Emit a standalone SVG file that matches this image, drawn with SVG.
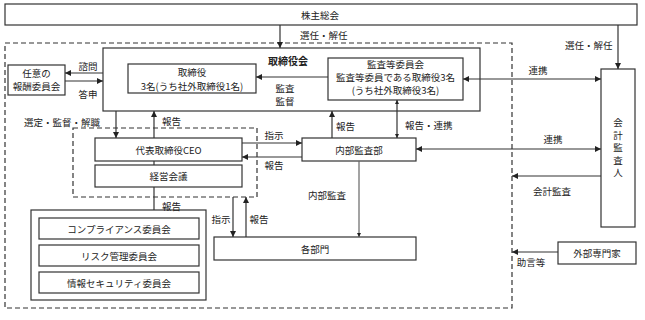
<svg xmlns="http://www.w3.org/2000/svg" width="645" height="320" viewBox="0 0 645 320">
<style>
text{font-family:"Noto Sans CJK JP","Liberation Sans",sans-serif;font-size:9.5px;fill:#222;text-anchor:middle;dominant-baseline:central}
.b{fill:#fff;stroke:#333;stroke-width:1.2}
.d{fill:none;stroke:#333;stroke-width:1.2;stroke-dasharray:5,3}
.c line{stroke:#333;stroke-width:1.2}
.bold{font-weight:bold;font-size:10px}
.l{text-anchor:start}
</style>
<defs>
<marker id="a" viewBox="0 0 10 10" refX="10" refY="5" markerWidth="6" markerHeight="6" markerUnits="userSpaceOnUse" orient="auto-start-reverse"><path d="M0,0L10,5L0,10z" fill="#222"/></marker>
<marker id="s" viewBox="0 0 10 10" refX="10" refY="5" markerWidth="4" markerHeight="4" markerUnits="userSpaceOnUse" orient="auto-start-reverse"><path d="M0,0L10,5L0,10z" fill="#222"/></marker>
</defs>
<rect class="d" x="5" y="43" width="507" height="265"/>
<rect class="d" x="73" y="128" width="184" height="69"/>
<g id="n-shareholders"><rect class="b" x="5" y="4" width="632" height="21"/><text x="320" y="14.5">株主総会</text></g>
<g id="n-board"><rect class="b" x="103" y="48" width="377" height="63"/><text class="bold" x="288" y="60">取締役会</text></g>
<g id="n-directors"><rect class="b" x="128" y="64" width="128" height="29"/><text x="192" y="72">取締役</text><text x="192" y="86">3名(うち社外取締役1名)</text></g>
<g id="n-auditcomm"><rect class="b" x="328" y="58" width="135" height="42"/><text x="395.5" y="64">監査等委員会</text><text x="395.5" y="77">監査等委員である取締役3名</text><text x="395.5" y="90">(うち社外取締役3名)</text></g>
<g id="n-remcomm"><rect class="b" x="8" y="65" width="57" height="30"/><text x="36.5" y="73">任意の</text><text x="36.5" y="86">報酬委員会</text></g>
<g id="n-auditor"><rect class="b" x="601" y="69" width="34" height="158"/><text x="618" y="122">会</text><text x="618" y="134.5">計</text><text x="618" y="147">監</text><text x="618" y="159.5">査</text><text x="618" y="172">人</text></g>
<g id="n-ceo"><rect class="b" x="95" y="138" width="147" height="23"/><text x="168.5" y="149.5">代表取締役CEO</text></g>
<g id="n-mgmt"><rect class="b" x="95" y="165" width="147" height="22"/><text x="168.5" y="176">経営会議</text></g>
<g id="n-internal"><rect class="b" x="302" y="138" width="114" height="23"/><text x="359" y="149.5">内部監査部</text></g>
<g id="n-depts"><rect class="b" x="214" y="237" width="202" height="23"/><text x="315" y="248.5">各部門</text></g>
<g id="n-committees"><rect class="b" x="31" y="210" width="175" height="90"/>
<rect class="b" x="39" y="218" width="160" height="21"/><text x="119" y="228.5">コンプライアンス委員会</text>
<rect class="b" x="39" y="245" width="160" height="21"/><text x="119" y="255.5">リスク管理委員会</text>
<rect class="b" x="39" y="272" width="160" height="21"/><text x="119" y="282.5">情報セキュリティ委員会</text></g>
<g id="n-experts"><rect class="b" x="558" y="242" width="78" height="22"/><text x="597" y="253">外部専門家</text></g>
<g class="c" id="connectors">
<line x1="280" y1="25" x2="280" y2="48" marker-end="url(#a)"/>
<line x1="618" y1="25" x2="618" y2="69" marker-end="url(#a)"/>
<line x1="103" y1="73" x2="65" y2="73" marker-end="url(#a)"/>
<line x1="65" y1="81" x2="103" y2="81" marker-end="url(#a)"/>
<line x1="328" y1="77" x2="256" y2="77" marker-end="url(#a)"/>
<line x1="463" y1="79" x2="601" y2="79" marker-start="url(#a)" marker-end="url(#a)"/>
<line x1="116" y1="111" x2="116" y2="138" marker-end="url(#a)"/>
<line x1="154" y1="138" x2="154" y2="111" marker-end="url(#a)"/>
<line x1="154" y1="161" x2="154" y2="165"/>
<line x1="154" y1="187" x2="154" y2="210"/>
<line x1="242" y1="143" x2="302" y2="143" marker-end="url(#a)"/>
<line x1="302" y1="157" x2="242" y2="157" marker-end="url(#a)"/>
<line x1="332" y1="138" x2="332" y2="111" marker-end="url(#a)"/>
<line x1="397" y1="138" x2="397" y2="100" marker-start="url(#s)" marker-end="url(#s)"/>
<line x1="416" y1="149" x2="601" y2="149" marker-start="url(#a)" marker-end="url(#a)"/>
<line x1="601" y1="176" x2="512" y2="176" marker-end="url(#a)"/>
<line x1="359" y1="161" x2="359" y2="237" marker-end="url(#s)" style="stroke:#666"/>
<line x1="233" y1="197" x2="233" y2="237" marker-end="url(#a)"/>
<line x1="246" y1="237" x2="246" y2="197" marker-end="url(#a)"/>
<line x1="558" y1="252" x2="512" y2="252" marker-end="url(#a)"/>
</g>
<g id="labels">
<text class="l" x="300" y="35">選任・解任</text>
<text class="l" x="565" y="45">選任・解任</text>
<text x="88" y="66">諮問</text>
<text x="88" y="94">答申</text>
<text x="285" y="88">監査</text>
<text x="285" y="101">監督</text>
<text x="538" y="70">連携</text>
<text class="l" x="24" y="122">選定・監督・解職</text>
<text class="l" x="162" y="121">報告</text>
<text class="l" x="336" y="126">報告</text>
<text class="l" x="405" y="125">報告・連携</text>
<text x="274" y="135">指示</text>
<text x="274" y="165">報告</text>
<text x="553" y="139">連携</text>
<text x="552" y="191">会計監査</text>
<text x="327" y="195">内部監査</text>
<text class="l" x="162" y="206">報告</text>
<text x="221" y="219">指示</text>
<text x="259" y="219">報告</text>
<text x="531" y="262">助言等</text>
</g>
</svg>
